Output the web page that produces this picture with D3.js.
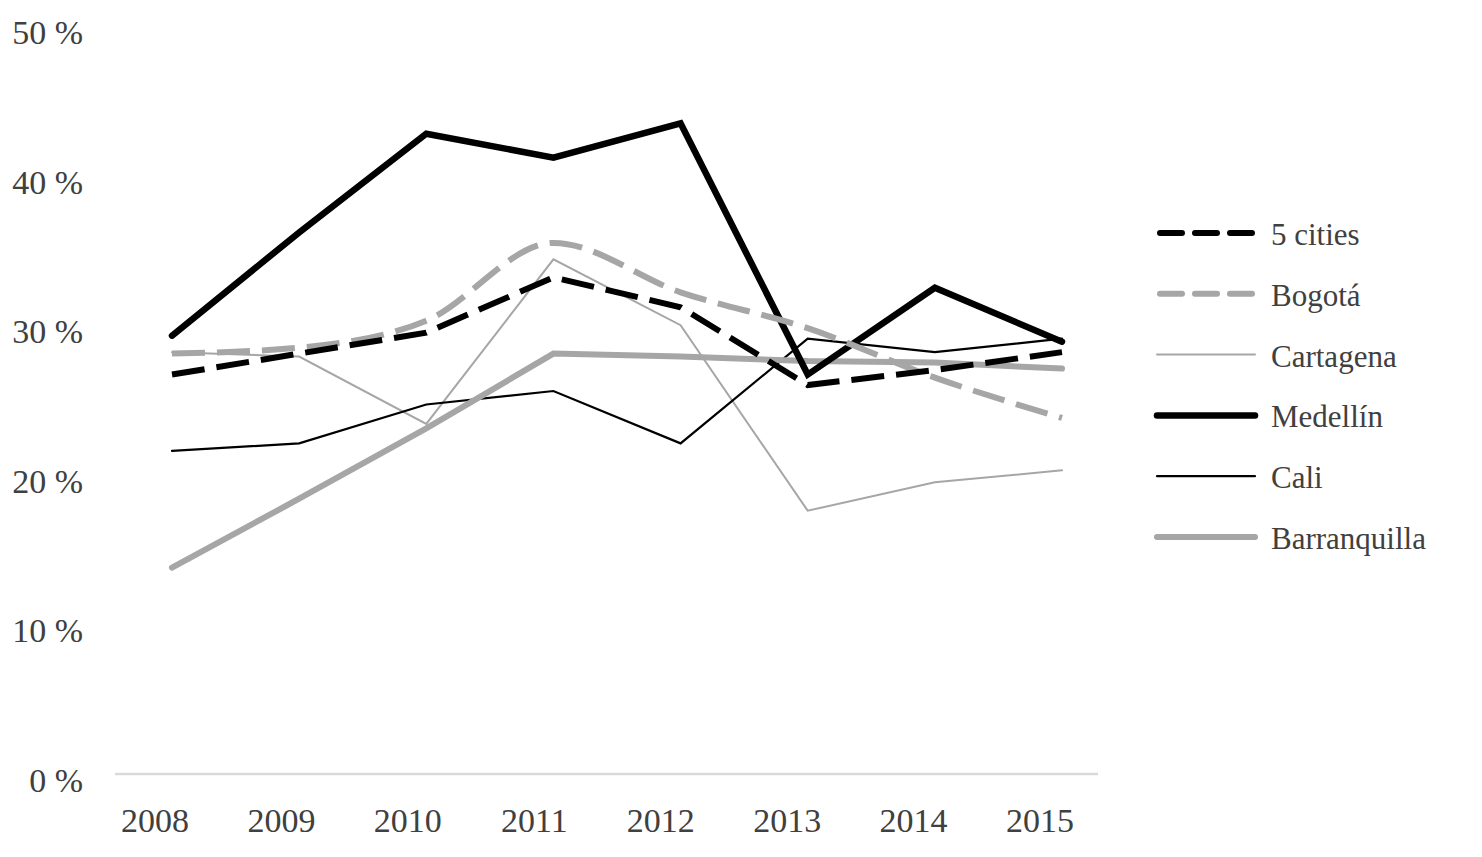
<!DOCTYPE html>
<html>
<head>
<meta charset="utf-8">
<script src="https://cdn.jsdelivr.net/npm/d3@7/dist/d3.min.js"></script>
<style>
  html, body { margin: 0; padding: 0; background: #ffffff; }
  svg { display: block; }
  text { font-family: "Liberation Serif", "Times New Roman", serif; fill: #404040; }
</style>
</head>
<body>
<svg id="chart" width="1482" height="857"></svg>
<script>
// ---- data ----
const years = ["2008", "2009", "2010", "2011", "2012", "2013", "2014", "2015"];
const yTicks = [0, 10, 20, 30, 40, 50];

const fiveCities   = [26.7, 28.1, 29.5, 33.2, 31.2, 26.0, 27.0, 28.2];
const bogota       = [28.1, 28.5, 30.3, 35.5, 32.2, 29.8, 26.5, 23.8];
const cartagena    = [28.2, 27.9, 23.4, 34.4, 30.0, 17.6, 19.5, 20.3];
const medellin     = [29.3, 36.2, 42.8, 41.2, 43.5, 26.7, 32.5, 28.9];
const cali         = [21.6, 22.1, 24.7, 25.6, 22.1, 29.1, 28.2, 29.1];
const barranquilla = [13.8, 18.4, 23.1, 28.1, 27.9, 27.6, 27.5, 27.1];

const seriesNames = ["5 cities", "Bogotá", "Cartagena", "Medellín", "Cali", "Barranquilla"];
const seriesValues = [fiveCities, bogota, cartagena, medellin, cali, barranquilla];

// ---- styles ----
const styles = {
  "5 cities":     { color: "#000000", width: 6,   dash: "33,12", smooth: false },
  "Bogotá":       { color: "#a6a6a6", width: 6,   dash: "33,12", smooth: true },
  "Cartagena":    { color: "#a6a6a6", width: 2,   dash: null,    smooth: false },
  "Medellín":     { color: "#000000", width: 6.5, dash: null,    smooth: false },
  "Cali":         { color: "#000000", width: 2.2, dash: null,    smooth: false },
  "Barranquilla": { color: "#a6a6a6", width: 6,   dash: null,    smooth: false }
};

const svg = d3.select("#chart");

// ---- scales ----
const y = d3.scaleLinear().domain([0, 50]).range([774, 26]);
const xLine = d3.scalePoint().domain(years).range([172, 1062]);
const xLabel = d3.scalePoint().domain(years).range([155, 1040]);

// ---- baseline ----
svg.append("line")
  .attr("x1", 115).attr("x2", 1098)
  .attr("y1", y(0)).attr("y2", y(0))
  .attr("stroke", "#d9d9d9").attr("stroke-width", 2.5);

// ---- y labels ----
svg.append("g").selectAll("text").data(yTicks).join("text")
  .attr("x", 83)
  .attr("y", d => y(d) + 18)
  .attr("text-anchor", "end")
  .attr("font-size", 34)
  .text(d => d + " %");

// ---- x labels ----
svg.append("g").selectAll("text").data(years).join("text")
  .attr("x", d => xLabel(d))
  .attr("y", 832)
  .attr("text-anchor", "middle")
  .attr("font-size", 34)
  .text(d => d);

// ---- lines ----
const drawOrder = ["Cartagena", "Cali", "Barranquilla", "Medellín", "Bogotá", "5 cities"];
const gLines = svg.append("g");
drawOrder.forEach(name => {
  const vals = seriesValues[seriesNames.indexOf(name)];
  const st = styles[name];
  const line = d3.line()
    .x((d, i) => xLine(years[i]))
    .y(d => y(d))
    .curve(st.smooth ? d3.curveMonotoneX : d3.curveLinear);
  gLines.append("path")
    .datum(vals)
    .attr("d", line)
    .attr("fill", "none")
    .attr("stroke", st.color)
    .attr("stroke-width", st.width)
    .attr("stroke-linejoin", "miter")
    .attr("stroke-linecap", st.dash ? "butt" : "round")
    .attr("stroke-dasharray", st.dash);
});

// ---- legend ----
const legendY = d3.scalePoint().domain(seriesNames).range([233, 537]);
const gLeg = svg.append("g");
seriesNames.forEach(name => {
  const st = styles[name];
  const yy = legendY(name);
  gLeg.append("line")
    .attr("x1", st.dash ? 1160 : 1157).attr("x2", st.dash ? 1252 : 1255)
    .attr("y1", yy).attr("y2", yy)
    .attr("stroke", st.color)
    .attr("stroke-width", st.width)
    .attr("stroke-linecap", "round")
    .attr("stroke-dasharray", st.dash ? "22,13" : null);
  gLeg.append("text")
    .attr("x", 1271)
    .attr("y", yy + 12)
    .attr("font-size", 31)
    .text(name);
});
</script>
</body>
</html>
